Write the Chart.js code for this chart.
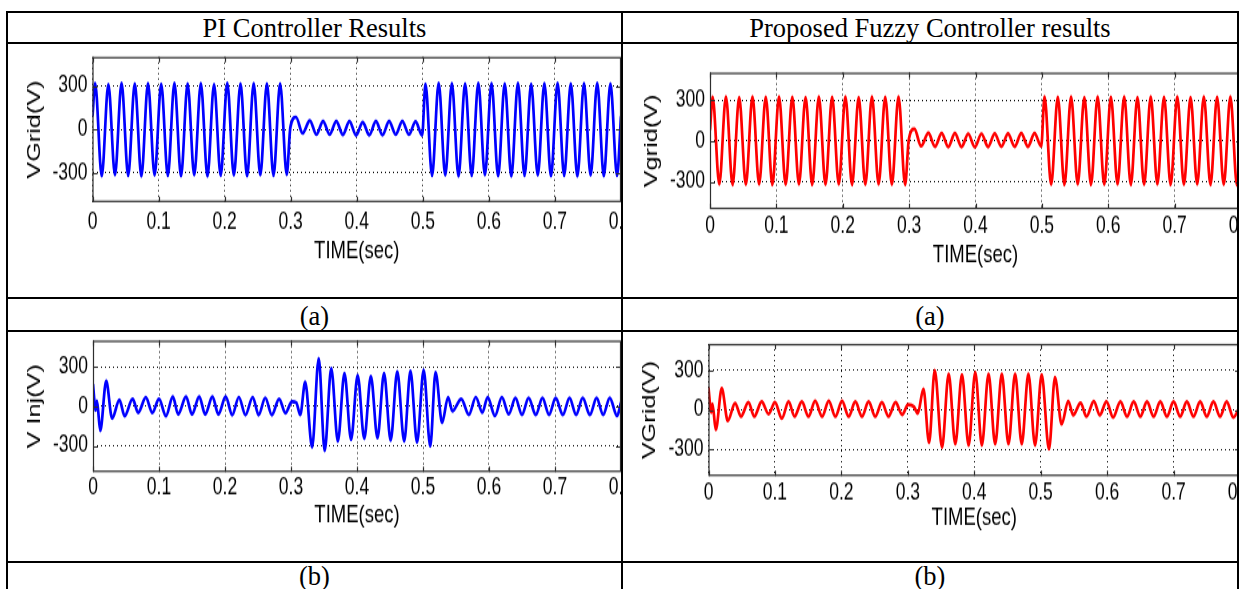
<!DOCTYPE html>
<html>
<head>
<meta charset="utf-8">
<title>PI vs Fuzzy controller results</title>
<script src="https://cdn.jsdelivr.net/npm/chart.js@4.4.1/dist/chart.umd.min.js"></script>
<style>
  body { margin: 0; background: #fff; }
  #page { position: relative; width: 1240px; height: 589px; overflow: hidden; background: #fff; }
  .line { position: absolute; background: #000; }
  .cap {
    position: absolute; height: 30px; line-height: 30px; text-align: center; color: #000;
    font-family: "Liberation Serif", "Times New Roman", serif; font-size: 26.5px; white-space: nowrap;
  }
  .cell { position: absolute; overflow: hidden; }
  .cell canvas { position: absolute; left: 0; top: 0; transform-origin: 0 0; }
</style>
</head>
<body>
<div id="page">
  <!-- table rules -->
  <div class="line" style="left:6px;top:11px;width:1233px;height:2px"></div>
  <div class="line" style="left:6px;top:42px;width:1233px;height:2px"></div>
  <div class="line" style="left:6px;top:297px;width:1233px;height:2px"></div>
  <div class="line" style="left:6px;top:330px;width:1233px;height:2px"></div>
  <div class="line" style="left:6px;top:561px;width:1233px;height:2px"></div>
  <div class="line" style="left:6px;top:11px;width:2px;height:580px"></div>
  <div class="line" style="left:621px;top:11px;width:2px;height:580px"></div>
  <div class="line" style="left:1237px;top:11px;width:2px;height:580px"></div>

  <div class="cap" style="left:8px;width:613px;top:13px">PI Controller Results</div>
  <div class="cap" style="left:623px;width:614px;top:13px">Proposed Fuzzy Controller results</div>
  <div class="cap" style="left:8px;width:613px;top:301px">(a)</div>
  <div class="cap" style="left:623px;width:614px;top:301px">(a)</div>
  <div class="cap" style="left:8px;width:613px;top:561px">(b)</div>
  <div class="cap" style="left:623px;width:614px;top:561px">(b)</div>
</div>

<script>
// ---- data ----

// axis ticks (shared by all four plots)
const X_TICKS = [0, 0.1, 0.2, 0.3, 0.4, 0.5, 0.6, 0.7, 0.8];
const X_TICK_LABELS = ['0', '0.1', '0.2', '0.3', '0.4', '0.5', '0.6', '0.7', '0.8'];
const Y_TICKS = [-300, 0, 300];
const Y_TICK_LABELS = ['-300', '0', '300'];

// grid voltage, top row: peaks / troughs of the 50 Hz wave, sag between 0.3 and 0.5 s
const TOP_TIME = [0, 0.004, 0.014, 0.024, 0.034, 0.044, 0.054, 0.064, 0.074, 0.084, 0.094,
  0.104, 0.114, 0.124, 0.134, 0.144, 0.154, 0.164, 0.174, 0.184, 0.194,
  0.204, 0.214, 0.224, 0.234, 0.244, 0.254, 0.264, 0.274, 0.284, 0.294,
  0.2995, 0.308, 0.318, 0.329, 0.339, 0.349, 0.359, 0.369, 0.379, 0.389, 0.399,
  0.409, 0.419, 0.429, 0.439, 0.449, 0.459, 0.469, 0.479, 0.489, 0.499,
  0.504, 0.514, 0.524, 0.534, 0.544, 0.554, 0.564, 0.574, 0.584, 0.594,
  0.604, 0.614, 0.624, 0.634, 0.644, 0.654, 0.664, 0.674, 0.684, 0.694,
  0.704, 0.714, 0.724, 0.734, 0.744, 0.754, 0.764, 0.774, 0.784, 0.794, 0.8];

const PI_VGRID = [90, 318, -320, 312, -312, 320, -318, 315, -322, 318, -315, 314, -318, 320, -320,
  316, -314, 318, -322, 312, -318, 320, -316, 315, -320, 318, -314, 316, -318, 316, -310,
  15, 85, -25, 62, -34, 57, -34, 57, -35, 57, -39, 50, -37, 57, -37, 57, -34, 57, -34, 54, -39,
  314, -318, 320, -316, 318, -322, 315, -318, 320, -314, 318, -320, 316, -322, 320,
  -318, 314, -316, 318, -320, 320, -318, 316, -322, 318, -316, 320, -320, 316, -318, 90];

const FZ_VGRID = [80, 322, -318, 325, -322, 320, -320, 324, -318, 322, -322, 325, -320, 322, -318,
  320, -322, 324, -320, 322, -318, 325, -322, 320, -320, 324, -318, 322, -320, 325, -322,
  10, 88, -38, 58, -42, 55, -44, 55, -44, 52, -45, 52, -44, 54, -42, 54, -42, 55, -42, 56, -40,
  325, -320, 322, -322, 324, -318, 320, -322, 325, -320, 322, -318, 324, -322, 320,
  -320, 325, -318, 322, -322, 324, -320, 320, -318, 325, -322, 322, -320, 324, -326, 80];

// injected voltage, PI controller (bottom left)
const PI_INJ_TIME = [0, 0.004, 0.006, 0.011, 0.020, 0.029, 0.040, 0.048, 0.060, 0.0685,
  0.080, 0.090, 0.100, 0.1105, 0.121, 0.129, 0.141, 0.150, 0.161, 0.170,
  0.181, 0.190, 0.201, 0.211, 0.221, 0.231, 0.242, 0.251, 0.261, 0.271,
  0.282, 0.2915, 0.3015, 0.308, 0.314, 0.3215, 0.332, 0.342, 0.351, 0.361,
  0.371, 0.381, 0.391, 0.401, 0.411, 0.421, 0.431, 0.441, 0.451, 0.461,
  0.4715, 0.481, 0.491, 0.501, 0.511, 0.519, 0.529, 0.538, 0.5445, 0.558,
  0.5695, 0.580, 0.590, 0.598, 0.609, 0.6195, 0.630, 0.640, 0.650, 0.660,
  0.671, 0.681, 0.691, 0.701, 0.712, 0.722, 0.732, 0.742, 0.753, 0.763,
  0.773, 0.783, 0.794, 0.8];

const PI_VINJ = [170, -30, 40, -184, 192, -91, 48, -73, 55, -48,
  68, -48, 55, -73, 73, -60, 73, -60, 73, -60,
  73, -60, 73, -65, 70, -65, 70, -65, 65, -65,
  57, -50, 36, 28, -64, 185, -311, 366, -337, 288,
  -265, 250, -252, 237, -245, 229, -240, 250, -258, 263,
  -265, 268, -273, 276, -304, 258, -124, 70, -36, 57,
  -64, 70, -46, 70, -72, 68, -59, 64, -64, 64,
  -64, 64, -64, 64, -64, 64, -64, 64, -64, 64,
  -64, 64, -72, 30];

// injected voltage, fuzzy controller (bottom right)
const FZ_INJ_TIME = [0, 0.004, 0.006, 0.011, 0.020, 0.029, 0.040, 0.049, 0.060, 0.069,
  0.080, 0.0905, 0.100, 0.1105, 0.1205, 0.1295, 0.1405, 0.1505, 0.1605, 0.171,
  0.181, 0.191, 0.201, 0.211, 0.221, 0.231, 0.241, 0.251, 0.261, 0.271,
  0.2815, 0.2915, 0.3005, 0.309, 0.315, 0.3235, 0.332, 0.3405, 0.3515, 0.3615,
  0.3715, 0.3815, 0.3915, 0.4015, 0.4115, 0.4215, 0.4315, 0.4415, 0.4515, 0.4615,
  0.4715, 0.4815, 0.4915, 0.5015, 0.5125, 0.5215, 0.5315, 0.5415, 0.549, 0.560,
  0.569, 0.580, 0.589, 0.599, 0.609, 0.620, 0.630, 0.640, 0.650, 0.660,
  0.670, 0.680, 0.690, 0.700, 0.710, 0.720, 0.730, 0.740, 0.750, 0.760,
  0.770, 0.780, 0.790, 0.8];

const FZ_VINJ = [172, -18, 46, -149, 164, -81, 51, -48, 58, -48,
  63, -30, 58, -63, 63, -48, 63, -48, 68, -48,
  68, -48, 68, -48, 63, -48, 63, -48, 58, -48,
  58, -35, 40, 25, -25, 159, -248, 299, -283, 273,
  -258, 268, -266, 286, -266, 273, -258, 273, -258, 273,
  -258, 273, -266, 268, -296, 248, -106, 66, -38, 53,
  -48, 66, -38, 63, -56, 63, -48, 63, -48, 63,
  -48, 63, -48, 63, -48, 63, -48, 63, -48, 63,
  -48, 63, -56, 30];

// ---- layout ----
// the MATLAB plots were pasted stretched vertically into the table, so every
// chart is drawn flatter and then scaled in Y by the same factor
const STRETCH = 1.33;
const TICK_FONT = 17.5;
const TITLE_FONT = 18.5;
const YTITLE_FONT = 19;
const SANS = '"Liberation Sans", Arial, Helvetica, sans-serif';

// page coordinates: cell [x, y, w, h], plot box [left, top, right(0.8), bottom]
const PANELS = [
  { cell: [8, 44, 613, 253], plot: [92.5, 57, 621, 202], tickY: 222, titleY: 252, yTitleX: 35,
    yTitle: 'VGrid(V)', color: '#0000ff', t: TOP_TIME, v: PI_VGRID },
  { cell: [623, 44, 614, 253], plot: [710, 72.7, 1241, 209], tickY: 227, titleY: 255, yTitleX: 652,
    yTitle: 'Vgrid(V)', color: '#ff0000', t: TOP_TIME, v: FZ_VGRID },
  { cell: [8, 332, 613, 229], plot: [93, 340.7, 621, 472], tickY: 488, titleY: 515, yTitleX: 35,
    yTitle: 'V Inj(V)', color: '#0000ff', t: PI_INJ_TIME, v: PI_VINJ },
  { cell: [623, 332, 614, 229], plot: [708.5, 344, 1240, 476], tickY: 492.7, titleY: 518, yTitleX: 650,
    yTitle: 'VGrid(V)', color: '#ff0000', t: FZ_INJ_TIME, v: FZ_VINJ }
];

// MATLAB style box with small inward tick marks
const framePlugin = {
  id: 'matlabFrame',
  afterDraw(chart) {
    const { ctx, chartArea: a, scales } = chart;
    ctx.save();
    ctx.strokeStyle = '#2e2e2e';
    ctx.lineWidth = 1.2;
    ctx.strokeRect(a.left + 0.5, a.top + 0.5, a.right - a.left - 1, a.bottom - a.top - 1);
    ctx.beginPath();
    scales.x.ticks.forEach(tk => {
      const px = Math.round(scales.x.getPixelForValue(tk.value)) + 0.5;
      ctx.moveTo(px, a.top); ctx.lineTo(px, a.top + 4);
      ctx.moveTo(px, a.bottom); ctx.lineTo(px, a.bottom - 4);
    });
    scales.y.ticks.forEach(tk => {
      const py = Math.round(scales.y.getPixelForValue(tk.value)) + 0.5;
      ctx.moveTo(a.left, py); ctx.lineTo(a.left + 5, py);
      ctx.moveTo(a.right, py); ctx.lineTo(a.right - 5, py);
    });
    ctx.stroke();
    ctx.restore();
  }
};

function makePanel(p) {
  const page = document.getElementById('page');
  const [cx, cy, cw, ch] = p.cell;
  const [pl, pt, pr, pb] = p.plot;

  const wrap = document.createElement('div');
  wrap.className = 'cell';
  wrap.style.left = cx + 'px';
  wrap.style.top = cy + 'px';
  wrap.style.width = cw + 'px';
  wrap.style.height = ch + 'px';

  const W = Math.round(pr - cx + 25);
  const H = Math.round(ch / STRETCH);
  const canvas = document.createElement('canvas');
  canvas.width = W;
  canvas.height = H;
  canvas.style.width = W + 'px';
  canvas.style.height = H + 'px';
  canvas.style.transform = 'scaleY(' + STRETCH + ')';
  wrap.appendChild(canvas);
  page.appendChild(wrap);

  // convert page targets into unstretched chart units
  const yAxisW = pl - cx;
  const padTop = (pt - cy) / STRETCH;
  const xAxisH = H - (pb - cy) / STRETCH;
  const tickPad = (p.tickY - pb) / STRETCH - 0.6 * TICK_FONT;
  const titlePadB = H - (p.titleY - cy) / STRETCH - 0.6 * TITLE_FONT;
  const yTitlePad = (p.yTitleX - cx) - 0.6 * YTITLE_FONT;

  const points = p.t.map((t, i) => ({ x: t, y: p.v[i] }));

  const grid = { color: '#000', lineWidth: 1, drawTicks: false };
  const border = { display: false, dash: [1, 3] };

  new Chart(canvas, {
    type: 'line',
    data: {
      datasets: [{
        data: points,
        borderColor: p.color,
        borderWidth: 2.7,
        pointRadius: 0,
        fill: false,
        cubicInterpolationMode: 'monotone'
      }]
    },
    options: {
      responsive: false,
      animation: false,
      events: [],
      layout: { padding: { top: padTop, right: W - (pr - cx), bottom: 0, left: 0 } },
      plugins: { legend: { display: false }, tooltip: { enabled: false } },
      scales: {
        x: {
          type: 'linear',
          min: 0,
          max: 0.8,
          afterBuildTicks: s => { s.ticks = X_TICKS.map(v => ({ value: v })); },
          afterFit: s => { s.height = xAxisH; s.paddingLeft = 0; s.paddingRight = 0; },
          ticks: {
            callback: (val, i) => X_TICK_LABELS[i],
            autoSkip: false,
            maxRotation: 0,
            padding: tickPad,
            color: '#000',
            font: { family: SANS, size: TICK_FONT }
          },
          grid: grid,
          border: border,
          title: {
            display: true,
            text: 'TIME(sec)',
            color: '#000',
            font: { family: SANS, size: TITLE_FONT },
            padding: { top: 0, bottom: titlePadB }
          }
        },
        y: {
          min: -500,
          max: 500,
          afterBuildTicks: s => { s.ticks = Y_TICKS.map(v => ({ value: v })); },
          afterFit: s => { s.width = yAxisW; s.paddingTop = 0; s.paddingBottom = 0; },
          ticks: {
            callback: (val, i) => Y_TICK_LABELS[i],
            padding: 5,
            color: '#000',
            font: { family: SANS, size: TICK_FONT }
          },
          grid: grid,
          border: border,
          title: {
            display: true,
            text: p.yTitle,
            color: '#000',
            font: { family: SANS, size: YTITLE_FONT },
            padding: { top: yTitlePad, bottom: 0 }
          }
        }
      }
    },
    plugins: [framePlugin]
  });
}

PANELS.forEach(makePanel);
</script>
</body>
</html>
